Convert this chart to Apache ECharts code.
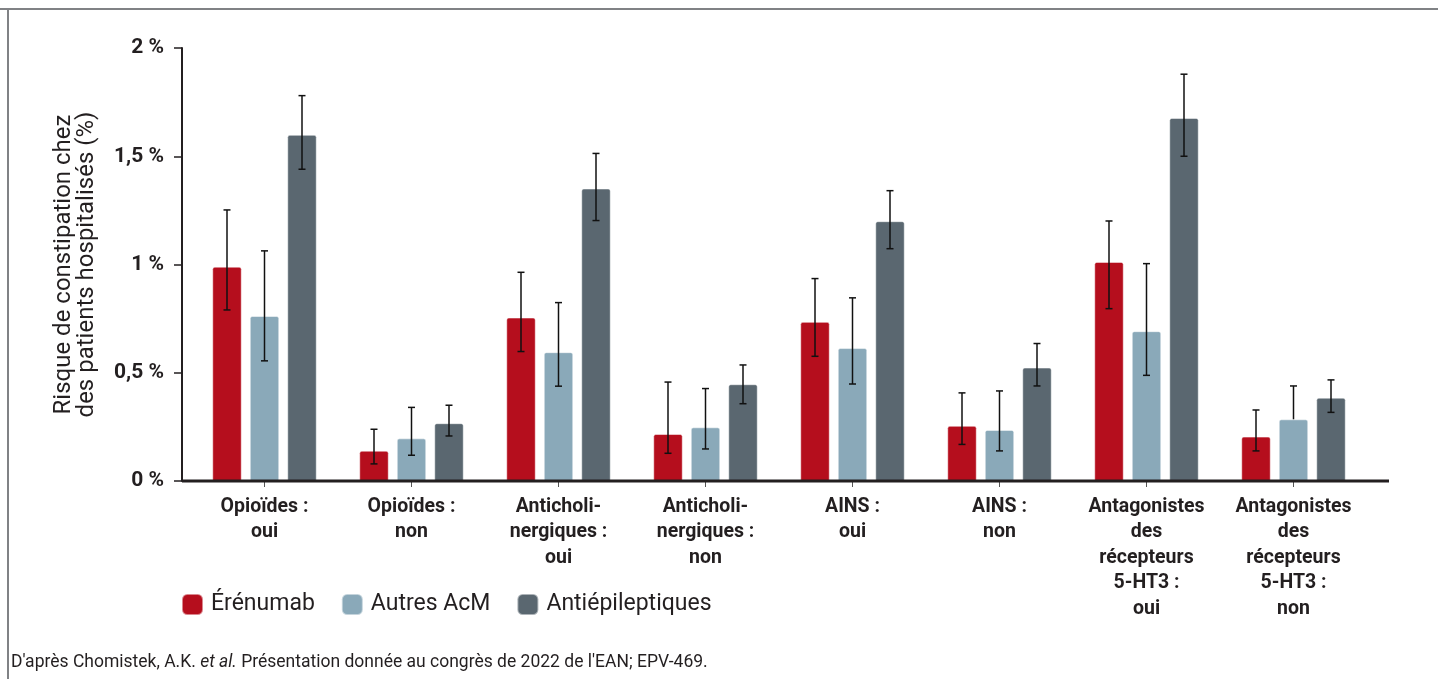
<!DOCTYPE html>
<html>
<head>
<meta charset="utf-8">
<script src="https://cdn.jsdelivr.net/npm/echarts@6/dist/echarts.min.js"></script>
<style>
  html, body { margin: 0; padding: 0; background: #fff; }
  #chart { width: 1438px; height: 679px; }
</style>
</head>
<body>
<div id="chart"></div>
<script>
var categories = [
  "Opioïdes :\noui", "Opioïdes :\nnon",
  "Anticholi-\nnergiques :\noui", "Anticholi-\nnergiques :\nnon",
  "AINS :\noui", "AINS :\nnon",
  "Antagonistes\ndes\nrécepteurs\n5-HT3 :\noui", "Antagonistes\ndes\nrécepteurs\n5-HT3 :\nnon"
];
var seriesNames = ["Érénumab", "Autres AcM", "Antiépileptiques"];
var yTickLabels = ["0 %", "0,5 %", "1 %", "1,5 %", "2 %"];

// valeurs (%)
var erenumab = [0.99, 0.14, 0.755, 0.217, 0.735, 0.255, 1.012, 0.205];
var autresAcm = [0.762, 0.197, 0.595, 0.248, 0.614, 0.236, 0.692, 0.285];
var antiepileptiques = [1.599, 0.267, 1.351, 0.447, 1.2, 0.524, 1.677, 0.385];

// intervalles (bas / haut)
var erenumabLow = [0.79, 0.079, 0.598, 0.128, 0.576, 0.169, 0.796, 0.139];
var erenumabHigh = [1.252, 0.239, 0.964, 0.457, 0.935, 0.407, 1.201, 0.328];
var autresLow = [0.555, 0.119, 0.438, 0.148, 0.448, 0.139, 0.488, null];
var autresHigh = [1.063, 0.34, 0.824, 0.427, 0.846, 0.416, 1.004, 0.439];
var antiLow = [1.44, 0.208, 1.203, 0.357, 1.073, 0.439, 1.5, 0.317];
var antiHigh = [1.78, 0.35, 1.513, 0.536, 1.341, 0.635, 1.879, 0.467];

var colors = ["#b50e1d", "#8aa9b9", "#5a6770"];
var barW = 29.5, barGapPx = 8;
var txt = "#231f20";
var font = "Roboto";

var gridLeft = 191, gridW = 1176, gridTop = 48, axisY = 481;

function errSeries(idx, vals, low, high) {
  var data = [];
  for (var i = 0; i < vals.length; i++) data.push([i, vals[i], low[i], high[i]]);
  return {
    type: "custom",
    z: 10,
    silent: true,
    data: data,
    renderItem: function (params, api) {
      var x = api.value(0);
      var hi = api.coord([x, api.value(3)]);
      var lowV = api.value(2);
      var lo = api.coord([x, isNaN(lowV) ? api.value(1) : lowV]);
      var off = (idx - 1) * (barW + barGapPx);
      var cx = hi[0] + off;
      var cap = 3.5;
      var st = { stroke: "#111", lineWidth: 1.5 };
      var kids = [
        { type: "line", shape: { x1: cx, y1: hi[1], x2: cx, y2: lo[1] }, style: st },
        { type: "line", shape: { x1: cx - cap, y1: hi[1], x2: cx + cap, y2: hi[1] }, style: st }
      ];
      if (!isNaN(lowV)) kids.push({ type: "line", shape: { x1: cx - cap, y1: lo[1], x2: cx + cap, y2: lo[1] }, style: st });
      return { type: "group", children: kids };
    }
  };
}

function barSeries(idx, vals) {
  return {
    name: seriesNames[idx],
    type: "bar",
    data: vals,
    barWidth: barW,
    barGap: (barGapPx / barW * 100) + "%",
    itemStyle: {
      color: colors[idx],
      borderRadius: [2, 2, 0, 0],
      borderColor: "rgba(255,255,255,0.5)",
      borderWidth: 1
    }
  };
}

var chart = echarts.init(document.getElementById("chart"));
chart.setOption({
  animation: false,
  textStyle: { fontFamily: font },
  grid: { left: gridLeft, width: gridW, top: gridTop, bottom: 679 - axisY, containLabel: false },
  legend: {
    left: 181, top: 593, padding: 0,
    itemWidth: 21, itemHeight: 21, itemGap: 26,
    icon: "roundRect",
    data: seriesNames,
    textStyle: { fontSize: 23, color: txt, fontFamily: font, padding: [0, 0, 0, 3] }
  },
  xAxis: {
    type: "category",
    data: categories,
    axisLine: { show: false },
    axisTick: { show: true, alignWithLabel: true, length: 6, lineStyle: { color: "#555", width: 1 } },
    axisLabel: { interval: 0, margin: 13, fontSize: 19.5, fontWeight: "bold", color: txt, lineHeight: 25.5, align: "center", verticalAlign: "top" }
  },
  yAxis: {
    type: "value",
    min: 0, max: 2, interval: 0.5,
    offset: 9,
    name: "Risque de constipation chez\ndes patients hospitalisés (%)",
    nameLocation: "middle",
    nameRotate: 90,
    nameGap: 84,
    nameTextStyle: { fontSize: 24, color: txt, lineHeight: 23, align: "center" },
    splitLine: { show: false },
    axisLine: { show: true, lineStyle: { color: txt, width: 2 } },
    axisTick: { show: true, length: 8, lineStyle: { color: txt, width: 1.5 } },
    axisLabel: {
      margin: 18, fontSize: 21, fontWeight: "bold", color: txt,
      formatter: function (v) { return yTickLabels[Math.round(v / 0.5)]; }
    }
  },
  series: [
    barSeries(0, erenumab), barSeries(1, autresAcm), barSeries(2, antiepileptiques),
    errSeries(0, erenumab, erenumabLow, erenumabHigh),
    errSeries(1, autresAcm, autresLow, autresHigh),
    errSeries(2, antiepileptiques, antiLow, antiHigh)
  ],
  graphic: [
    { type: "line", z: 5, shape: { x1: gridLeft - 9, y1: axisY, x2: 1389, y2: axisY }, style: { stroke: txt, lineWidth: 3 } },
    { type: "line", shape: { x1: 0, y1: 9, x2: 1438, y2: 9 }, style: { stroke: "#808285", lineWidth: 2 } },
    { type: "line", shape: { x1: 8, y1: 9, x2: 8, y2: 679 }, style: { stroke: "#808285", lineWidth: 2 } },
    {
      type: "text", left: 11, top: 654,
      style: {
        text: "D'après Chomistek, A.K. {i|et al.} Présentation donnée au congrès de 2022 de l'EAN; EPV-469.",
        fontSize: 17.5, fill: txt, fontFamily: font,
        rich: { i: { fontStyle: "italic", fontSize: 17.5, fontFamily: font } }
      }
    }
  ]
});
</script>
</body>
</html>
